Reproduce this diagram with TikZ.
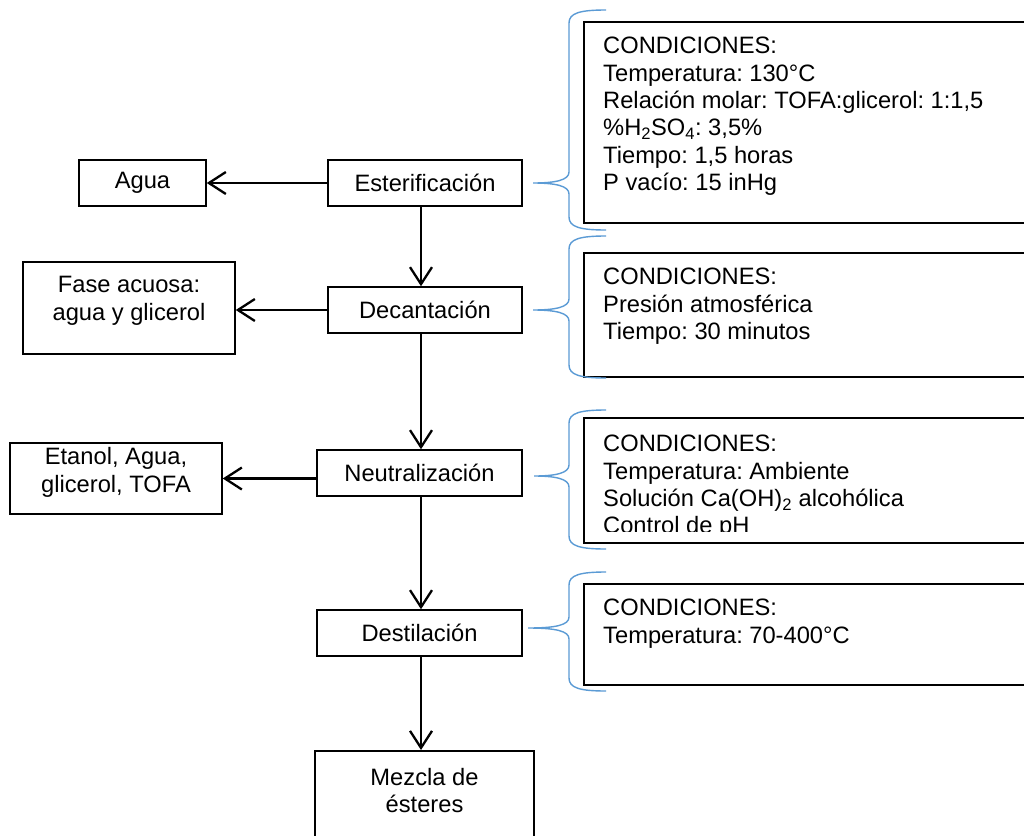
\documentclass[tikz,border=0pt]{standalone}
\usepackage{fontspec}
\setmainfont{Liberation Sans}
\usetikzlibrary{arrows.meta}
\definecolor{braceblue}{RGB}{91,155,213}
\frenchspacing

\begin{document}
\begin{tikzpicture}[x=1pt,y=-1pt,>={Straight Barb[length=17pt,width=22pt]}]
  \tikzstyle{txt}=[font=\fontsize{23.7}{27.4}\selectfont]
  \tikzstyle{proc}=[txt,draw,line width=1.5pt,minimum height=46pt,inner sep=0pt]
  \tikzstyle{cond}=[draw,line width=1.6pt,minimum width=460pt,anchor=north west,inner sep=0pt]
  \tikzstyle{condtxt}=[txt,align=left,anchor=north west,inner sep=0pt]
  \tikzstyle{arr}=[->,line width=2.3pt]
  \tikzstyle{brace}=[braceblue,line width=1.4pt]
  \clip (0,0) rectangle (1024,835);
  \fill[white] (0,0) rectangle (1024,835);
  \coordinate (axis) at (421,0);

  % proceso principal
  \node[proc,minimum width=194pt] (ester) at (425,183) {Esterificación};
  \node[proc,minimum width=194pt] (decant) at (425,310) {Decantación};
  \node[proc,minimum width=205pt] (neutral) at (419.5,473) {Neutralización};
  \node[proc,minimum width=205pt] (destil) at (419.5,633) {Destilación};
  \node[proc,minimum width=219pt,minimum height=120pt,anchor=north,
    label={[txt,anchor=north,yshift=-18pt,align=center,inner sep=0pt]north:{Mezcla de\\ésteres}}]
    (mezcla) at (424.5,750) {};

  % salidas laterales
  \node[proc,minimum width=127pt] (agua) at (142.5,183) {Agua};
  \node[proc,minimum width=212pt,minimum height=92pt,align=center,text depth=19pt]
    (fase) at (129,308) {Fase acuosa:\\agua y glicerol};
  \node[proc,minimum width=212pt,minimum height=71pt,align=center,text depth=17pt]
    (etanol) at (116,478.5) {Etanol, Agua,\\glicerol, TOFA};

  \draw[arr] (ester.west) -- (agua.east);
  \draw[arr] (decant.west) -- (decant.west -| fase.east);
  \draw[arr] (etanol.east -| neutral.west) -- (etanol.east);
  \draw[arr] (ester.south -| axis) -- (decant.north -| axis);
  \draw[arr] (decant.south -| axis) -- (neutral.north -| axis);
  \draw[arr] (neutral.south -| axis) -- (destil.north -| axis);
  \draw[arr] (destil.south -| axis) -- (mezcla.north -| axis);

  % condiciones
  \node[cond,minimum height=201pt] (cond1) at (583,21) {};
  \node[cond,minimum height=124pt] (cond2) at (583,252) {};
  \node[cond,minimum height=125pt] (cond3) at (583,417) {};
  \node[cond,minimum height=101pt] (cond4) at (583,583) {};

  \node[condtxt] (txt1) at ([shift={(20,16)}]cond1.north west)
    {CONDICIONES:\\Temperatura: 130°C\\Relación molar: TOFA:glicerol: 1:1,5\\
     \%H\textsubscript{2}SO\textsubscript{4}: 3,5\%\\Tiempo: 1,5 horas\\P vacío: 15 inHg};
  \node[condtxt] (txt2) at ([shift={(20,16)}]cond2.north west)
    {CONDICIONES:\\Presión atmosférica\\Tiempo: 30 minutos};
  \begin{scope}
    \clip (583,417) rectangle (1024,531);
    \node[condtxt] (txt3) at ([shift={(20,18)}]cond3.north west)
      {CONDICIONES:\\Temperatura: Ambiente\\Solución Ca(OH)\textsubscript{2} alcohólica\\Control de pH};
  \end{scope}
  \node[condtxt] (txt4) at ([shift={(20,16)}]cond4.north west)
    {CONDICIONES:\\Temperatura: 70-400°C};

  \foreach \t/\m/\b/\mx in {10/183/230/533,236/310/378/533,410/476/549/534,572/628/691/528} {
    \draw[brace] (606,\t) .. controls (580,\t) and (569,\t+3) .. (569,\t+13)
      -- (569,\m-11) .. controls (569,\m-3) and (556,\m) .. (\mx,\m)
      .. controls (556,\m) and (569,\m+3) .. (569,\m+11)
      -- (569,\b-13) .. controls (569,\b-3) and (580,\b) .. (606,\b);
  }
\end{tikzpicture}
\end{document}
